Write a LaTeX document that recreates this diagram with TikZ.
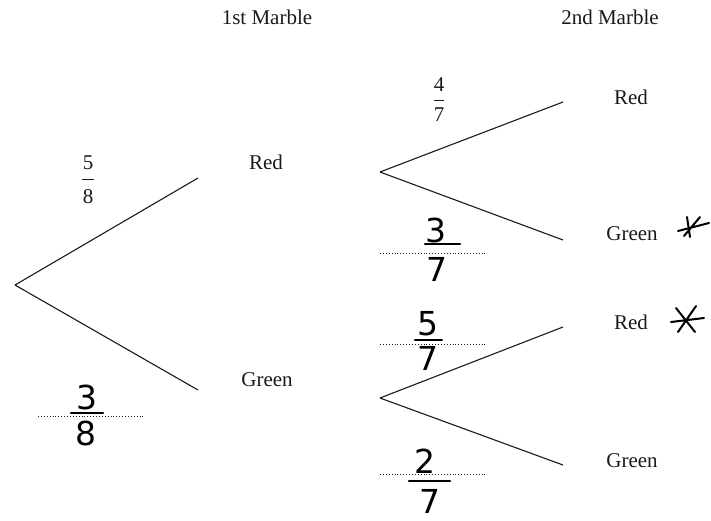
\documentclass[tikz,border=0pt]{standalone}
\usepackage{fontspec}
\setmainfont{Liberation Serif}
\newfontfamily\handfont{DejaVu Sans}
\usepackage{tikz}
\definecolor{inkblack}{HTML}{1A1A1A}
\tikzset{
  branch/.style={draw=inkblack,line width=1.1pt},
  lbl/.style={font=\fontsize{21}{24}\selectfont,inner sep=0pt,text=inkblack},
  prnum/.style={font=\fontsize{21}{24}\selectfont,inner sep=0pt,text=inkblack},
  prbar/.style={draw=inkblack,line width=0.8pt},
  handnum/.style={font=\handfont\fontsize{33}{36}\selectfont,inner sep=0pt,text=black},
  handbar/.style={draw=black,line width=2.4pt,line cap=round},
  dotline/.style={draw=inkblack,line width=0.9pt,dotted},
  starmark/.style={draw=black,line width=2pt,line cap=round}
}
\begin{document}
\begin{tikzpicture}[x=1pt,y=-1pt]
\useasboundingbox (0,0) rectangle (711,520);
% headings
\node[lbl] (t1) at (267,17) {1st Marble};
\node[lbl] (t2) at (610,17) {2nd Marble};
% first marble
\coordinate (r0) at (15,285);
\coordinate (e1) at (198,178);
\coordinate (e2) at (198,390);
\draw[branch] (r0) -- (e1);
\draw[branch] (r0) -- (e2);
\node[lbl] (red1) at (266,162) {Red};
\node[lbl] (green1) at (267,380) {Green};
\node[prnum] (n58) at (88,163) {5};
\node[prnum] (d58) at (88,197) {8};
\draw[prbar] (82,179) -- (94,179);
% second marble, after red
\coordinate (ra) at (380,172);
\coordinate (ea1) at (563,102);
\coordinate (ea2) at (563,240);
\draw[branch] (ra) -- (ea1);
\draw[branch] (ra) -- (ea2);
\node[lbl] (red2) at (631,97) {Red};
\node[lbl] (green2) at (632,234) {Green};
\node[prnum] (n47) at (439,85) {4};
\node[prnum] (d47) at (439,115) {7};
\draw[prbar] (434,100) -- (444,100);
% second marble, after green
\coordinate (rb) at (380,398);
\coordinate (eb1) at (563,327);
\coordinate (eb2) at (563,465);
\draw[branch] (rb) -- (eb1);
\draw[branch] (rb) -- (eb2);
\node[lbl] (red3) at (631,322) {Red};
\node[lbl] (green3) at (632,461) {Green};
% dotted answer lines
\foreach \yy/\xa/\xb in {416/38/145,253/380/487,344/380/487,474/380/487}
  {\draw[dotline] (\xa,\yy) -- (\xb,\yy);}
% handwritten fractions
\node[handnum] (h38n) at (87,397) {3};
\draw[handbar] (71,413) -- (103,413);
\node[handnum] (h38d) at (86,433) {8};
\node[handnum] (h37n) at (436,230) {3};
\draw[handbar] (425,244) -- (460,244);
\node[handnum] (h37d) at (437,269) {7};
\node[handnum] (h57n) at (428,324) {5};
\draw[handbar] (415,340) -- (442,340);
\node[handnum] (h57d) at (428,358) {7};
\node[handnum] (h27n) at (425,461) {2};
\draw[handbar] (409,481) -- (450,481);
\node[handnum] (h27d) at (430,501) {7};
% ticks by the answers
\draw[starmark] (687,217) -- (690,237) (700,217) -- (684,236) (678,231) -- (709,223);
\draw[starmark] (676,308) -- (695,332) (696,306) -- (678,332) (671,322) -- (704,318);
\end{tikzpicture}
\end{document}
